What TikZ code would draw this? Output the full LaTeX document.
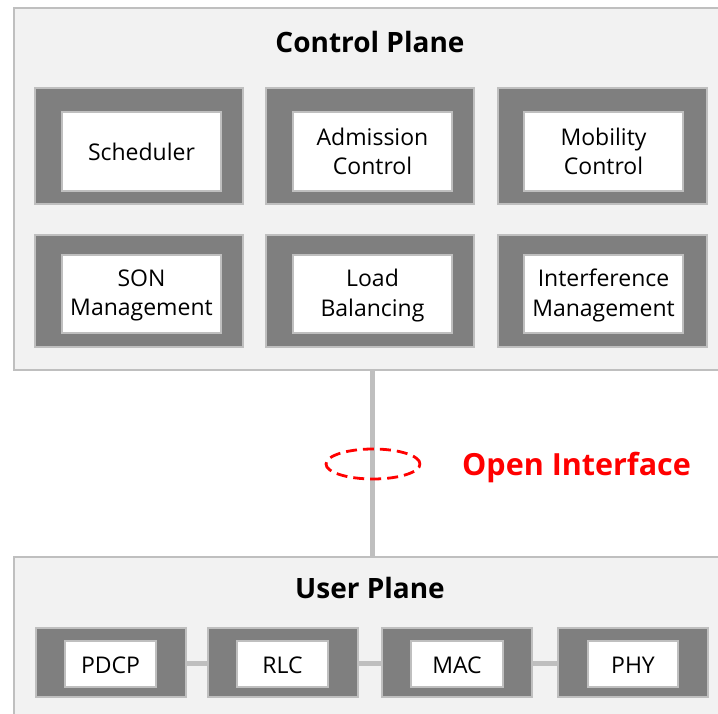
\documentclass[tikz,border=0pt]{standalone}
\usepackage{fontspec}
\setmainfont{Open Sans}
\usetikzlibrary{fit,shapes.geometric}
\definecolor{planefill}{HTML}{F2F2F2}
\definecolor{lightgray}{HTML}{BFBFBF}
\definecolor{darkgray}{HTML}{7F7F7F}
\definecolor{ifred}{HTML}{FF0000}
\tikzset{
  plane/.style={draw=lightgray, fill=planefill, line width=2.2pt, inner sep=0pt},
  modframe/.style={draw=lightgray, fill=darkgray, line width=1.8pt, inner sep=0pt},
  modbox/.style={draw=lightgray, fill=white, line width=1.2pt, inner sep=0pt},
  modtext/.style={align=center, inner sep=0pt, font=\fontsize{23}{29.5}\selectfont, text=black},
  title/.style={font=\fontsize{28}{32}\selectfont\bfseries, text=black},
  link/.style={draw=lightgray, line width=5pt},
}
\begin{document}
\begin{tikzpicture}[x=1pt,y=-1pt]
\useasboundingbox (0,0) rectangle (718,714);
\clip (0,0) rectangle (718,714);

% control plane and user plane containers
\node[plane, fit={(14,8) (730,370)}] (cp) {};
\node[plane, fit={(14,557) (730,730)}] (up) {};

% link between the planes
\coordinate (cpb) at (372,370);
\coordinate (upt) at (372,557);
\draw[link] (cpb) -- (upt);

\node[title] (cptitle) at (370,42.5) {Control Plane};
\node[title] (uptitle) at (370,588) {User Plane};

% control plane modules, first row
\node[modframe, fit={(35,88) (243,204)}] (schedf) {};
\node[modbox, fit={(62,112) (221,191)}] (sched) {};
\node[modtext] (schedt) at (sched.center) {Scheduler};
\node[modframe, fit={(266,88) (474,204)}] (admf) {};
\node[modbox, fit={(293,112) (452,191)}] (adm) {};
\node[modtext] (admt) at (adm.center) {Admission\\Control};
\node[modframe, fit={(498,88) (707,204)}] (mobf) {};
\node[modbox, fit={(524,112) (683,191)}] (mob) {};
\node[modtext] (mobt) at (mob.center) {Mobility\\Control};

% control plane modules, second row
\node[modframe, fit={(35,235) (243,347)}] (sonf) {};
\node[modbox, fit={(62,255) (221,333)}] (son) {};
\node[modtext] (sont) at ([yshift=-1.5pt]son.center) {SON\\Management};
\node[modframe, fit={(266,235) (474,347)}] (lbf) {};
\node[modbox, fit={(293,255) (452,333)}] (lb) {};
\node[modtext] (lbt) at ([yshift=-1.5pt]lb.center) {Load\\Balancing};
\node[modframe, fit={(498,235) (707,347)}] (imf) {};
\node[modbox, fit={(524,255) (683,333)}] (im) {};
\node[modtext] (imt) at ([yshift=-1.5pt]im.center) {Interference\\Management};

% open interface marker
\node[draw=ifred, dash pattern=on 11pt off 6pt, line width=2.8pt,
  ellipse, minimum width=94pt, minimum height=30pt, inner sep=0pt] (oiring) at (373,464) {};
\node[font=\fontsize{30.5}{34}\selectfont\bfseries, text=ifred, anchor=base west, inner sep=0pt] (oitext) at (462,475) {Open Interface};

% user plane protocol stack
\node[modframe, fit={(36,628) (186,697)}] (pdcpf) {};
\node[modbox, fit={(65,641) (156,687)}] (pdcp) {};
\node[modtext] (pdcpt) at ([yshift=-1.5pt]pdcp.center) {PDCP};
\node[modframe, fit={(208,628) (358,697)}] (rlcf) {};
\node[modbox, fit={(237,641) (328,687)}] (rlc) {};
\node[modtext] (rlct) at ([yshift=-1.5pt]rlc.center) {RLC};
\node[modframe, fit={(382,628) (532,697)}] (macf) {};
\node[modbox, fit={(411,641) (503,687)}] (mac) {};
\node[modtext] (mact) at ([yshift=-1.5pt]mac.center) {MAC};
\node[modframe, fit={(558,628) (708,697)}] (phyf) {};
\node[modbox, fit={(588,641) (678,687)}] (phy) {};
\node[modtext] (phyt) at ([yshift=-1.5pt]phy.center) {PHY};

\draw[link] ([yshift=-1pt]pdcpf.east) -- ([yshift=-1pt]rlcf.west);
\draw[link] ([yshift=-1pt]rlcf.east) -- ([yshift=-1pt]macf.west);
\draw[link] ([yshift=-1pt]macf.east) -- ([yshift=-1pt]phyf.west);
\end{tikzpicture}
\end{document}
